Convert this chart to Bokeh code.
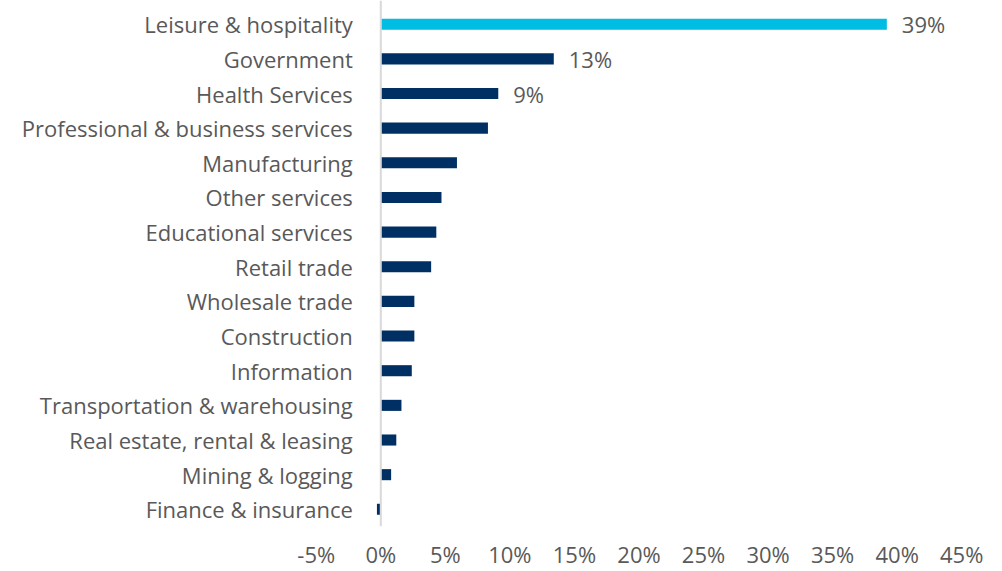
from bokeh.plotting import figure
from bokeh.models import ColumnDataSource, FixedTicker, Span
from bokeh.core.properties import value
from bokeh.embed import file_html
from bokeh.resources import INLINE

# ---- data (top to bottom) ----
categories = [
    "Leisure & hospitality",
    "Government",
    "Health Services",
    "Professional & business services",
    "Manufacturing",
    "Other services",
    "Educational services",
    "Retail trade",
    "Wholesale trade",
    "Construction",
    "Information",
    "Transportation & warehousing",
    "Real estate, rental & leasing",
    "Mining & logging",
    "Finance & insurance",
]
values = [39.2, 13.4, 9.1, 8.3, 5.9, 4.7, 4.3, 3.9, 2.6, 2.6, 2.4, 1.6, 1.2, 0.8, -0.3]
data_labels = ["39%", "13%", "9%", "", "", "", "", "", "", "", "", "", "", "", ""]
highlight = ["Leisure & hospitality"]

tick_values = [-5, 0, 5, 10, 15, 20, 25, 30, 35, 40, 45]
tick_labels = ["-5%", "0%", "5%", "10%", "15%", "20%", "25%", "30%", "35%", "40%", "45%"]

# ---- styling ----
FONT = "Open Sans"
TEXT_COLOR = "#595959"
DARK = "#003063"
LIGHT = "#00BDE3"

n = len(categories)
pos = [n - 1 - i for i in range(n)]
colors = [LIGHT if c in highlight else DARK for c in categories]

src = ColumnDataSource(dict(
    cat=categories, val=values, pos=pos, color=colors,
    lbl=data_labels, base=[0] * n,
))

# frame spans the whole width so category labels (drawn as text) are not clipped
p = figure(
    width=1002, height=571,
    x_range=(-29.46, 48.16), y_range=(-0.496, 14.684),
    output_backend="svg", toolbar_location=None,
    min_border_left=0, min_border_right=0, min_border_top=0, min_border_bottom=30,
    background_fill_color="white", border_fill_color="white",
)
p.outline_line_color = None
p.grid.visible = False
p.yaxis.visible = False

p.hbar(y="pos", left="base", right="val", height=0.32, color="color", line_color=None, source=src)

zero = Span(location=0, dimension="height", line_color="#D9D9D9", line_width=2)
p.add_layout(zero)

p.text(x="base", y="pos", text="cat", source=src, x_offset=-28,
       text_align="right", text_baseline="middle",
       text_font=value(FONT), text_font_size="22px", text_color=TEXT_COLOR)

p.text(x="val", y="pos", text="lbl", source=src, x_offset=15,
       text_align="left", text_baseline="middle",
       text_font=value(FONT), text_font_size="22px", text_color=TEXT_COLOR)

xa = p.xaxis[0]
xa.ticker = FixedTicker(ticks=tick_values)
xa.major_label_overrides = {v: l for v, l in zip(tick_values, tick_labels)}
xa.axis_line_color = None
xa.major_tick_line_color = None
xa.minor_tick_line_color = None
xa.major_tick_out = 0
xa.major_label_standoff = 12
xa.major_label_text_font = FONT
xa.major_label_text_font_size = "22px"
xa.major_label_text_color = TEXT_COLOR

open("out.html", "w").write(file_html(p, INLINE))
